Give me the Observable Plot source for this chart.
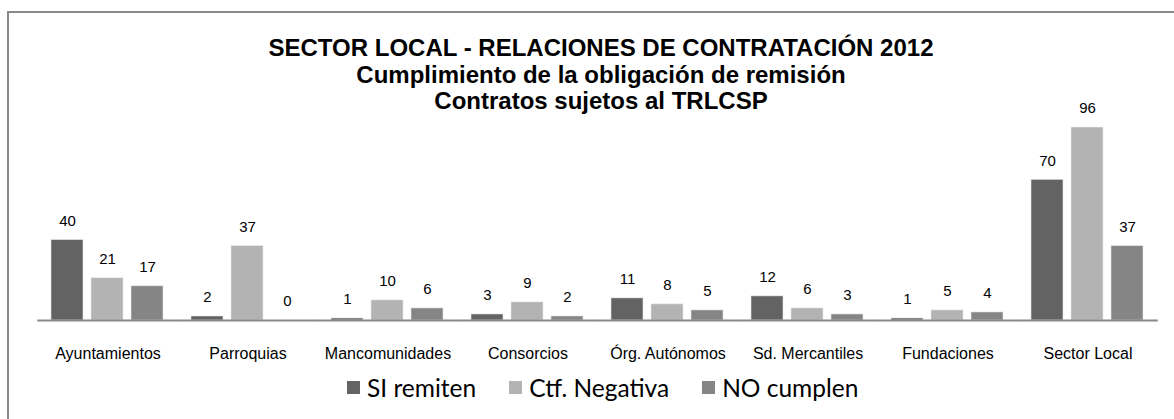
<!DOCTYPE html>
<html>
<head>
<meta charset="utf-8">
<script src="https://cdn.jsdelivr.net/npm/d3@7"></script>
<script src="https://cdn.jsdelivr.net/npm/@observablehq/plot@0.6"></script>
<style>
  html, body { margin: 0; padding: 0; background: #fff; }
  #wrap { position: relative; width: 1174px; height: 419px; overflow: hidden; background: #fff; }
  #frame { position: absolute; left: 7px; top: 11px; width: 1300px; height: 600px; border: 2px solid #888; box-sizing: border-box; }
  #title { position: absolute; left: 0; width: 1202px; top: 35px; text-align: center; font-family: "Liberation Sans", Arial, sans-serif; font-weight: bold; font-size: 24px; line-height: 26.5px; color: #000; }
  #legend { position: absolute; left: 347px; top: 372px; height: 30px; font-family: Lato, "Open Sans", sans-serif; font-size: 24.5px; color: #000; display: flex; align-items: center; white-space: nowrap; }
  #legend .item { display: flex; align-items: center; margin-right: 33px; }
  #legend .sw { width: 13px; height: 13px; margin-right: 7px; display: inline-block; }
  #chart { position: absolute; left: 0; top: 0; }
</style>
</head>
<body>
<div id="wrap">
  <div id="frame"></div>
  <div id="chart"></div>
  <div id="title">SECTOR LOCAL - RELACIONES DE CONTRATACIÓN 2012<br>Cumplimiento de la obligación de remisión<br>Contratos sujetos al TRLCSP</div>
  <div id="legend"></div>
</div>
<script>
const categories = ["Ayuntamientos", "Parroquias", "Mancomunidades", "Consorcios", "Órg. Autónomos", "Sd. Mercantiles", "Fundaciones", "Sector Local"];
const series = ["SI remiten", "Ctf. Negativa", "NO cumplen"];
const siRemiten   = [40, 2, 1, 3, 11, 12, 1, 70];
const ctfNegativa = [21, 37, 10, 9, 8, 6, 5, 96];
const noCumplen   = [17, 0, 6, 2, 5, 3, 4, 37];
const colors = ["#636363", "#b3b3b3", "#858585"];

const values = [siRemiten, ctfNegativa, noCumplen];
const data = [];
categories.forEach((c, i) => series.forEach((s, j) => data.push({category: c, series: s, value: values[j][i]})));

const chart = Plot.plot({
  width: 1174,
  height: 419,
  marginLeft: 36,
  marginRight: 16,
  marginTop: 119,
  marginBottom: 99,
  style: {fontFamily: "'Liberation Sans', Arial, sans-serif", fontSize: "16px", color: "#000", background: "transparent"},
  fx: {domain: categories, paddingInner: 0.18, paddingOuter: 0.09, tickSize: 0, tickPadding: 27, label: null},
  x: {domain: series, paddingInner: 0.195, paddingOuter: 0, axis: null},
  y: {domain: [0, 100], axis: null},
  color: {domain: series, range: colors},
  marks: [
    Plot.barY(data, {fx: "category", x: "series", y: "value", fill: "series", stroke: "#e6e6e6", strokeWidth: 0.6}),
    Plot.ruleY([0], {stroke: "#888", strokeWidth: 2, insetLeft: -12.7, insetRight: -12.7}),
    Plot.text(data, {fx: "category", x: "series", y: "value", text: d => String(d.value), dy: -19, fontSize: 15, fill: "#000"})
  ]
});
document.getElementById("chart").appendChild(chart);

const legend = document.getElementById("legend");
series.forEach((s, j) => {
  const item = document.createElement("span");
  item.className = "item";
  const sw = document.createElement("span");
  sw.className = "sw";
  sw.style.background = colors[j];
  item.appendChild(sw);
  item.appendChild(document.createTextNode(s));
  legend.appendChild(item);
});
</script>
</body>
</html>
